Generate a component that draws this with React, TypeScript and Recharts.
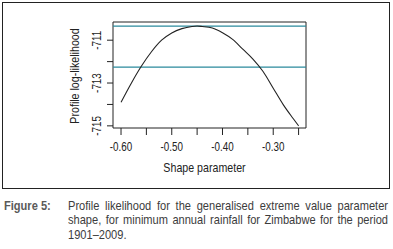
import { Label, Line, LineChart, ReferenceArea, ReferenceLine, XAxis, YAxis } from 'recharts'

// shape parameter values and profile log-likelihood
const shapeValues = [
  -0.6, -0.58, -0.56, -0.54, -0.52, -0.5, -0.48, -0.46, -0.45, -0.44, -0.42, -0.4, -0.38, -0.36,
  -0.34, -0.32, -0.3, -0.28, -0.26, -0.25,
]
const logLikelihood = [
  -713.9, -713.02, -712.22, -711.54, -711.0, -710.66, -710.46, -710.36, -710.34, -710.36, -710.43,
  -710.65, -710.96, -711.42, -711.88, -712.46, -713.24, -714.02, -714.68, -715.0,
]

const maxLikelihood = -710.34
const ciCutoff = -712.26

const xTicks = [-0.6, -0.55, -0.5, -0.45, -0.4, -0.35, -0.3, -0.25]
const xLabelled = ['-0.60', '-0.50', '-0.40', '-0.30']
const yTicks = [-715, -714, -713, -712, -711]
const yLabelled = [-715, -713, -711]

const captionLines = [
  'Profile likelihood for the generalised extreme value parameter',
  'shape, for minimum annual rainfall for Zimbabwe for the period',
  '1901–2009.',
]

const X_MIN = -0.6158
const X_MAX = -0.2354
const Y_MIN = -715.1
const Y_MAX = -710.15

const rows = shapeValues.map((shape, i) => ({ shape, ll: logLikelihood[i] }))

// no Arial Narrow available, so squeeze Liberation Sans horizontally
const font = "'Liberation Sans', Arial, sans-serif"
const narrow = 0.82
const ink = '#222'
const teal = '#2a8a9c'

function NarrowText({
  x,
  y,
  angle = 0,
  size,
  children,
}: {
  x: number
  y: number
  angle?: number
  size: number
  children: any
}) {
  return (
    <text
      x={0}
      y={0}
      transform={`translate(${x}, ${y}) rotate(${angle}) scale(${narrow}, 1)`}
      textAnchor="middle"
      dominantBaseline="central"
      fill={ink}
      fontSize={size}
      fontFamily={font}
    >
      {children}
    </text>
  )
}

function XTick(props: any) {
  const label = Number(props.payload?.value).toFixed(2)
  if (!xLabelled.includes(label)) return <g />
  return (
    <NarrowText x={Number(props.x)} y={Number(props.y) + 7} size={12}>
      {label}
    </NarrowText>
  )
}

function YTick(props: any) {
  const value = Number(props.payload?.value)
  if (!yLabelled.includes(value)) return <g />
  return (
    <NarrowText x={Number(props.x)} y={Number(props.y)} angle={-90} size={12}>
      {value}
    </NarrowText>
  )
}

export default function App() {
  return (
    <div
      style={{
        position: 'absolute',
        left: 0,
        top: 0,
        width: 393,
        height: 249,
        background: '#fff',
        fontFamily: font,
      }}
    >
      <div
        style={{
          position: 'absolute',
          left: 2,
          top: 2,
          width: 386,
          height: 185,
          border: `1.5px solid ${ink}`,
        }}
      />
      <div style={{ position: 'absolute', left: 0, top: 0 }}>
        <LineChart
          width={393}
          height={190}
          data={rows}
          margin={{ top: 22, right: 87, bottom: 22, left: 38 }}
        >
          <ReferenceArea
            x1={X_MIN}
            x2={X_MAX}
            y1={Y_MIN}
            y2={Y_MAX}
            fill="none"
            stroke={ink}
            strokeWidth={1}
            ifOverflow="visible"
          />
          <XAxis
            dataKey="shape"
            type="number"
            domain={[X_MIN, X_MAX]}
            ticks={xTicks}
            interval={0}
            allowDataOverflow
            axisLine={false}
            tickLine={{ stroke: ink }}
            tickSize={7}
            tickMargin={5}
            height={40}
            tick={XTick}
          >
            <Label
              content={({ viewBox }: any) => (
                <NarrowText x={viewBox.x + viewBox.width / 2 - 5} y={168} size={13}>
                  Shape parameter
                </NarrowText>
              )}
            />
          </XAxis>
          <YAxis
            type="number"
            domain={[Y_MIN, Y_MAX]}
            ticks={yTicks}
            interval={0}
            allowDataOverflow
            axisLine={false}
            tickLine={{ stroke: ink }}
            tickSize={6}
            tickMargin={10}
            width={75}
            tick={YTick}
          >
            <Label
              content={({ viewBox }: any) => (
                <NarrowText x={75} y={viewBox.y + viewBox.height / 2 + 1} angle={-90} size={13}>
                  Profile log-likelihood
                </NarrowText>
              )}
            />
          </YAxis>
          <ReferenceLine y={maxLikelihood} stroke={teal} strokeWidth={1.2} />
          <ReferenceLine y={ciCutoff} stroke={teal} strokeWidth={1.2} />
          <Line
            dataKey="ll"
            type="monotone"
            stroke={ink}
            strokeWidth={1.1}
            dot={false}
            activeDot={false}
            isAnimationActive={false}
          />
        </LineChart>
      </div>
      <div
        style={{
          position: 'absolute',
          left: 4,
          top: 199,
          fontSize: 13.5,
          lineHeight: '14.3px',
          fontWeight: 'bold',
          color: '#5a5a5a',
          whiteSpace: 'nowrap',
          transform: `scaleX(${narrow})`,
          transformOrigin: 'left top',
        }}
      >
        Figure 5:
      </div>
      <div
        style={{
          position: 'absolute',
          left: 68,
          top: 199,
          width: 320 / narrow,
          fontSize: 13.5,
          lineHeight: '14.3px',
          color: '#3c3c3c',
          transform: `scaleX(${narrow})`,
          transformOrigin: 'left top',
        }}
      >
        {captionLines.map((line, i) => (
          <div
            key={line}
            style={{
              whiteSpace: 'nowrap',
              textAlign: i < captionLines.length - 1 ? 'justify' : 'left',
              textAlignLast: i < captionLines.length - 1 ? 'justify' : 'left',
            }}
          >
            {line}
          </div>
        ))}
      </div>
    </div>
  )
}
